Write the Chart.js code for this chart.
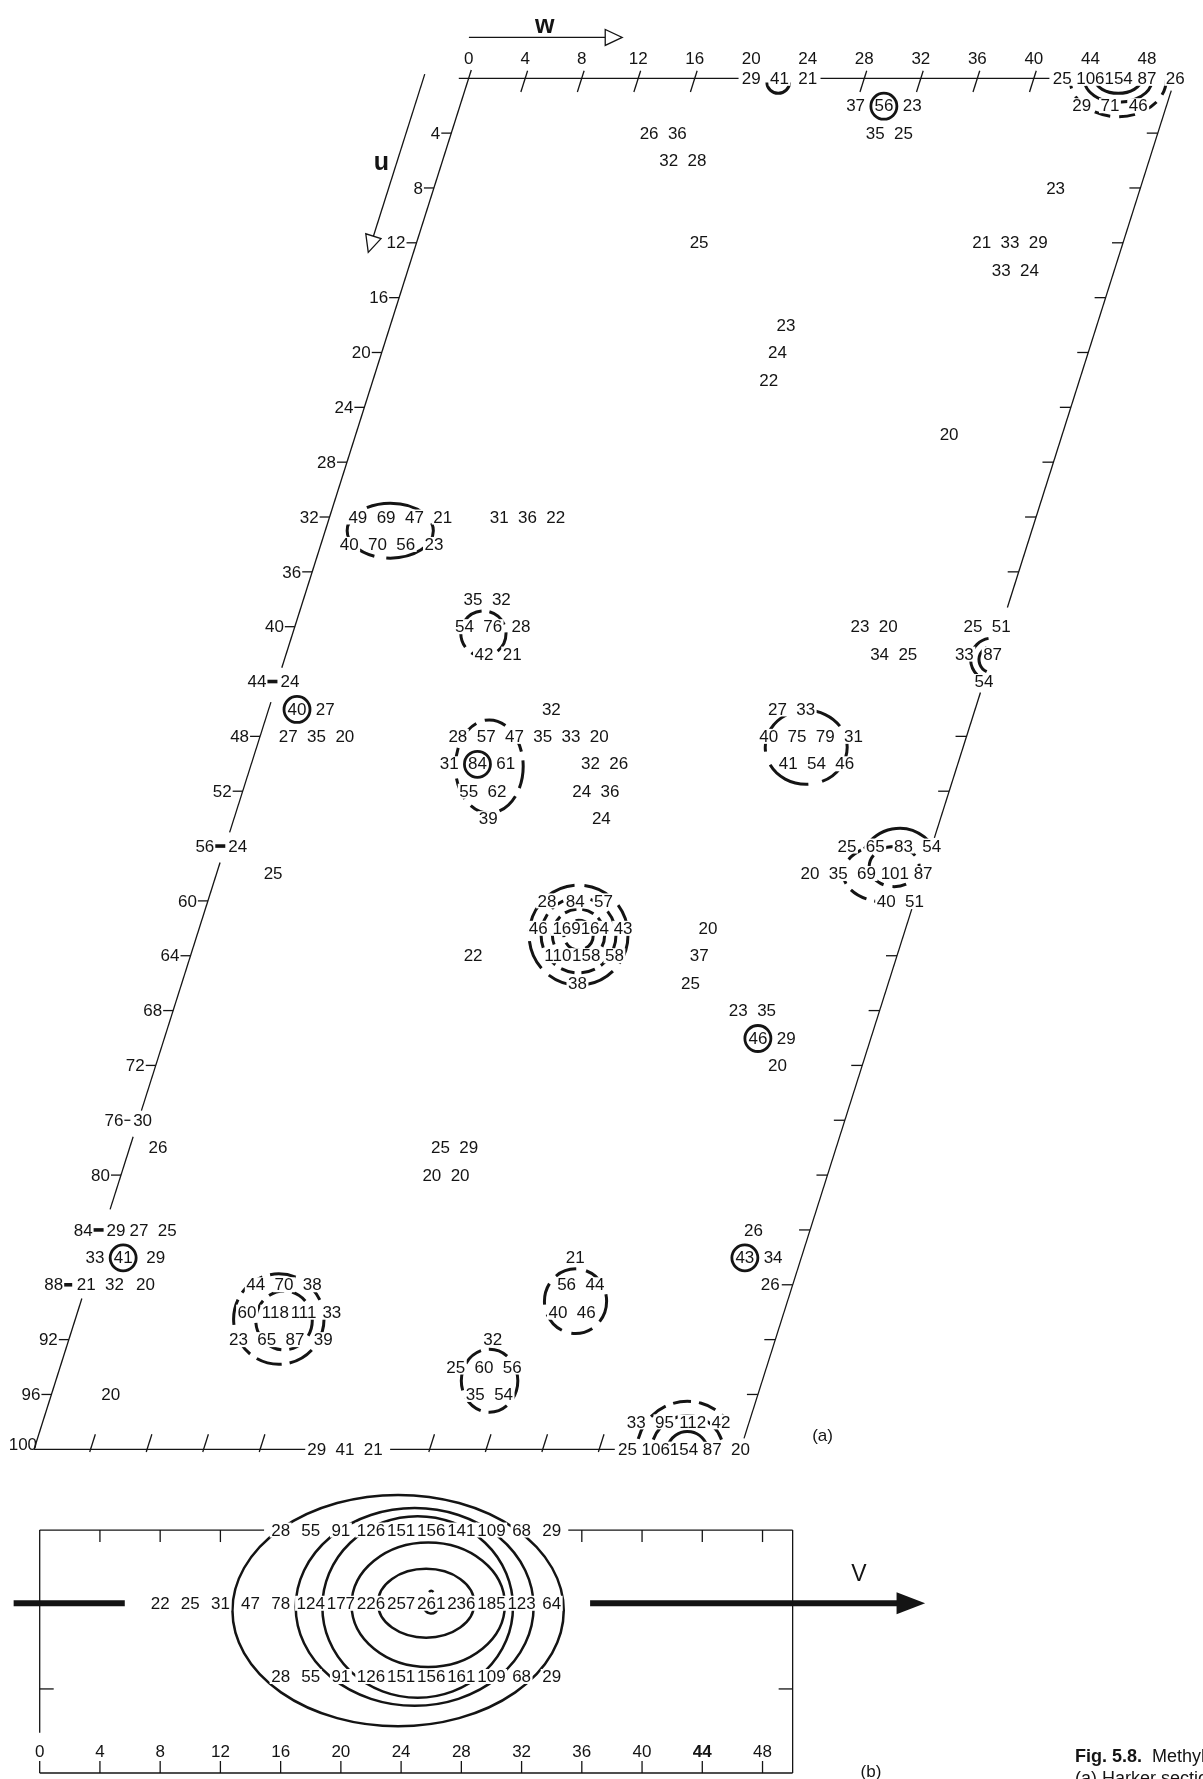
<!DOCTYPE html>
<html><head><meta charset="utf-8">
<script src="https://cdn.jsdelivr.net/npm/chart.js@4.4.1/dist/chart.umd.min.js"></script>
<style>
html,body{margin:0;padding:0;background:#fff;width:1203px;height:1779px;overflow:hidden}
canvas{position:absolute;left:0}
</style>
</head><body>
<canvas id="ca" width="1203" height="1470" style="top:0;width:1203px;height:1470px"></canvas>
<canvas id="cb" width="1203" height="309" style="top:1470px;width:1203px;height:309px"></canvas>
<script>
// ---------- (a) Harker section: peak heights at grid points [w, u, value] ----------
const SKEW = 0.3076; // oblique cell: w-shift per unit of u
const harkerPeaks = [
 [20,0,29],[22,0,41],[24,0,21],[42,0,25],[44,0,106],[46,0,154],[48,0,87],[50,0,26],
 [28,2,37],[30,2,56],[32,2,23],[44,2,29],[46,2,71],[48,2,46],
 [14,4,26],[16,4,36],[30,4,35],[32,4,25],
 [16,6,32],[18,6,28],
 [44,8,23],
 [20,12,25],[40,12,21],[42,12,33],[44,12,29],
 [42,14,33],[44,14,24],
 [28,18,23],[28,20,24],[28,22,22],
 [42,26,20],
 [2,32,49],[4,32,69],[6,32,47],[8,32,21],[12,32,31],[14,32,36],[16,32,22],
 [2,34,40],[4,34,70],[6,34,56],[8,34,23],
 [12,38,35],[14,38,32],
 [12,40,54],[14,40,76],[16,40,28],[40,40,23],[42,40,20],[48,40,25],[50,40,51],
 [14,42,42],[16,42,21],[42,42,34],[44,42,25],[48,42,33],[50,42,87],
 [50,44,54],
 [2,46,40],[4,46,27],[20,46,32],[36,46,27],[38,46,33],
 [2,48,27],[4,48,35],[6,48,20],[14,48,28],[16,48,57],[18,48,47],[20,48,35],[22,48,33],[24,48,20],[36,48,40],[38,48,75],[40,48,79],[42,48,31],
 [14,50,31],[16,50,84],[18,50,61],[24,50,32],[26,50,26],[38,50,41],[40,50,54],[42,50,46],
 [16,52,55],[18,52,62],[24,52,24],[26,52,36],
 [18,54,39],[26,54,24],
 [44,56,25],[46,56,65],[48,56,83],[50,56,54],
 [4,58,25],[42,58,20],[44,58,35],[46,58,69],[48,58,101],[50,58,87],
 [24,60,28],[26,60,84],[28,60,57],[48,60,40],[50,60,51],
 [24,62,46],[26,62,169],[28,62,164],[30,62,43],[36,62,20],
 [20,64,22],[26,64,110],[28,64,158],[30,64,58],[36,64,37],
 [28,66,38],[36,66,25],
 [40,68,23],[42,68,35],
 [42,70,46],[44,70,29],
 [44,72,20],
 [0.3,76,30],
 [2,78,26],[22,78,25],[24,78,29],
 [22,80,20],[24,80,20],
 [2.5,84,27],[4.5,84,25],[46,84,26],
 [0,86,33],[2,86,41],[4.3,86,29],[34,86,21],[46,86,43],[48,86,34],
 [0,88,21],[2,88,32],[4.2,88,20],[12,88,44],[14,88,70],[16,88,38],[34,88,56],[36,88,44],
 [12,90,60],[14,90,118],[16,90,111],[18,90,33],[34,90,40],[36,90,46],
 [12,92,23],[14,92,65],[16,92,87],[18,92,39],[30,92,32],
 [28,94,25],[30,94,60],[32,94,56],
 [4.2,96,20],[30,96,35],[32,96,54],
 [42,98,33],[44,98,95],[46,98,112],[48,98,42],
 [20,100,29],[22,100,41],[24,100,21],[42,100,25],[44,100,106],[46,100,154],[48,100,87],[50,100,20]
];
const circledPeaks = [[30,2],[2,46],[16,50],[42,70],[2,86],[46,86]];
const leftEdgeValues = [[44,24],[56,24],[84,29]];   // [u, value] printed just right of w = 0
const rightEdgeValues = [[88,26]];                   // [u, value] printed just left of w = 50
const heavyLeftTicks = [44,56,84,88];
const wTickLabels = [0,4,8,12,16,20,24,28,32,36,40,44,48];
const wTickMarks = [4,8,12,16,28,32,36,40];
const uTickLabels = [4,8,12,16,20,24,28,32,36,40,44,48,52,56,60,64,68,72,76,80,84,88,92,96,100];
const rightTickMarks = [4,8,12,16,20,24,28,32,36,48,52,64,68,72,76,80,84,88,92,96];
const topEdgeSpans = [[-0.7,19.1],[24.9,41.1]];
const bottomEdgeSpans = [[0,19.2],[25.2,41.1]];
const leftEdgeSpans = [[-0.6,43],[45.5,55],[57.2,75.3],[77.2,82.5],[89,100]];
const rightEdgeSpans = [[0.9,38.6],[44.8,55.4],[60.6,99.2]];
// contours: centre (w,u), radii in w / u units, arc angles (deg), dash
const contoursA = [
 {w:22,u:0.3,rw:0.8,ru:0.8,a0:0,a1:180},
 {w:46,u:0.1,rw:1.6,ru:1.0,a0:0,a1:180},
 {w:46,u:0.1,rw:2.4,ru:1.65,a0:15,a1:165},
 {w:46,u:0.1,rw:3.4,ru:2.7,a0:0,a1:180,dash:[16,9]},
 {w:4.6,u:33,rw:3.05,ru:2.0,a0:0,a1:360,dash:[60,12]},
 {w:13.5,u:40.5,rw:1.6,ru:1.65,a0:0,a1:360,dash:[20,8]},
 {w:16.9,u:50.2,rw:2.4,ru:3.4,a0:0,a1:360,dash:[22,9]},
 {w:38.9,u:48.8,rw:2.9,ru:2.7,a0:0,a1:360,dash:[45,14]},
 {w:50.1,u:42.4,rw:1.53,ru:1.57,a0:100,a1:260},
 {w:50.1,u:42.4,rw:0.94,ru:0.97,a0:115,a1:245},
 {w:48.4,u:58.2,rw:3.05,ru:3.5,a0:215,a1:325},
 {w:47.3,u:58,rw:2.95,ru:2.07,a0:80,a1:235,dash:[18,8]},
 {w:47.8,u:57.5,rw:1.77,ru:1.46,a0:0,a1:360,dash:[14,9]},
 {w:27,u:62.5,rw:1.04,ru:1.08,a0:0,a1:360,dash:[16,6]},
 {w:27,u:62.5,rw:1.85,ru:1.9,a0:0,a1:360,dash:[12,6]},
 {w:27,u:62.5,rw:2.65,ru:2.75,a0:0,a1:360,dash:[14,7]},
 {w:27,u:62.5,rw:3.5,ru:3.65,a0:0,a1:360,dash:[30,10]},
 {w:14.4,u:90.5,rw:3.2,ru:3.3,a0:0,a1:360,dash:[26,8]},
 {w:14.8,u:90.6,rw:2.0,ru:2.15,a0:0,a1:360,dash:[16,8]},
 {w:30.7,u:95,rw:2.0,ru:2.3,a0:0,a1:360,dash:[20,8]},
 {w:35,u:89.2,rw:2.2,ru:2.36,a0:0,a1:360,dash:[22,10]},
 {w:46.3,u:100.2,rw:1.45,ru:1.5,a0:190,a1:350},
 {w:46.3,u:100.2,rw:2.57,ru:2.65,a0:200,a1:340},
 {w:46.3,u:100.2,rw:3.6,ru:3.7,a0:195,a1:320,dash:[18,8]}
];

// ---------- (b) Harker line along v ----------
const topRowV = [16,18,20,22,24,26,28,30,32,34];
const topRowValues = [28,55,91,126,151,156,141,109,68,29];
const midRowV = [8,10,12,14,16,18,20,22,24,26,28,30,32,34];
const midRowValues = [22,25,31,47,78,124,177,226,257,261,236,185,123,64];
const botRowV = [16,18,20,22,24,26,28,30,32,34];
const botRowValues = [28,55,91,126,151,156,161,109,68,29];
const vTickLabels = [0,4,8,12,16,20,24,28,32,36,40,44,48];
const vTopTicks = [4,8,12,36,40,44,48];
const topBorderSpans = [[0,14.9],[35.1,50]];
const contoursB = [
 {v:26.0,r:0.02,rv:0.5,rr:0.12,a0:10,a1:170},
 {v:26.0,r:0.0,rv:0.35,rr:0.17,a0:245,a1:295},
 {v:25.66,r:0.0,rv:3.2,rr:0.47,a0:0,a1:360},
 {v:25.8,r:0.02,rv:5.09,rr:0.85,a0:0,a1:360},
 {v:25.1,r:0.05,rv:6.33,rr:1.24,a0:0,a1:360},
 {v:24.9,r:0.05,rv:7.9,rr:1.35,a0:0,a1:360},
 {v:23.8,r:0.1,rv:11.0,rr:1.58,a0:0,a1:360}
];

const FONT = '"Liberation Sans", Arial, Helvetica, sans-serif';
const INK = '#141414';
const D2R = Math.PI/180;

function textItems(ctx, items){
  items.forEach(it => {
    if (!it.box) return;
    ctx.font = it.font;
    const w = ctx.measureText(it.t).width;
    const x0 = it.align==='left' ? it.x : it.align==='right' ? it.x - w : it.x - w/2;
    ctx.fillStyle = '#fff';
    ctx.fillRect(x0 - 1.5, it.y - 7.5, w + 3, 15);
  });
  items.forEach(it => {
    ctx.font = it.font; ctx.textAlign = it.align || 'center'; ctx.textBaseline = 'middle';
    ctx.fillStyle = INK; ctx.fillText(it.t, it.x, it.y + 1);
  });
}
function line(ctx, a, b){ ctx.beginPath(); ctx.moveTo(a.x,a.y); ctx.lineTo(b.x,b.y); ctx.stroke(); }
function openHead(ctx, tip, dx, dy, len, half){
  const n = Math.hypot(dx,dy); const ux = dx/n, uy = dy/n;
  const bx = tip.x - ux*len, by = tip.y - uy*len;
  ctx.beginPath();
  ctx.moveTo(tip.x, tip.y);
  ctx.lineTo(bx - uy*half, by + ux*half);
  ctx.lineTo(bx + uy*half, by - ux*half);
  ctx.closePath(); ctx.fillStyle='#fff'; ctx.fill(); ctx.stroke();
}

const sectionPlugin = {
  id: 'section',
  afterDraw(chart){
    const ctx = chart.ctx, xs = chart.scales.x, ys = chart.scales.y;
    const P = (w,u) => ({x: xs.getPixelForValue(w - SKEW*u), y: ys.getPixelForValue(u)});
    const sx = v => Math.abs(xs.getPixelForValue(v) - xs.getPixelForValue(0));
    const sy = v => Math.abs(ys.getPixelForValue(v) - ys.getPixelForValue(0));
    ctx.save();
    ctx.strokeStyle = INK; ctx.lineCap = 'butt';
    ctx.lineWidth = 1.3;
    topEdgeSpans.forEach(([a,b]) => line(ctx, P(a,0), P(b,0)));
    bottomEdgeSpans.forEach(([a,b]) => line(ctx, P(a,100), P(b,100)));
    leftEdgeSpans.forEach(([a,b]) => line(ctx, P(0,a), P(0,b)));
    rightEdgeSpans.forEach(([a,b]) => line(ctx, P(50,a), P(50,b)));
    wTickMarks.forEach(w => { line(ctx, P(w,-0.55), P(w,1.0)); line(ctx, P(w,98.9), P(w,100.2)); });
    uTickLabels.forEach(u => {
      if (u === 100) return;
      const p = P(0,u);
      const heavy = heavyLeftTicks.includes(u);
      ctx.lineWidth = heavy ? 3.6 : 1.3;
      if (u === 88) line(ctx, {x:p.x-22, y:p.y}, {x:p.x-14, y:p.y});
      else if (u === 76) line(ctx, {x:p.x-14, y:p.y}, {x:p.x-8, y:p.y});
      else line(ctx, {x:p.x-10, y:p.y}, {x:p.x, y:p.y});
    });
    ctx.lineWidth = 1.3;
    rightTickMarks.forEach(u => { const p = P(50,u); line(ctx, {x:p.x-11,y:p.y}, p); });
    const wa = P(-0.9,-2.98), wb = P(9.95,-2.98);
    line(ctx, wa, {x:wb.x-17, y:wb.y});
    openHead(ctx, wb, 1, 0, 17, 8);
    const ua = P(-3.2,-0.3), ub = P(-3.2,12.7);
    const dx = ub.x-ua.x, dy = ub.y-ua.y, n = Math.hypot(dx,dy);
    line(ctx, ua, {x: ub.x - dx/n*17, y: ub.y - dy/n*17});
    openHead(ctx, ub, dx, dy, 17, 8);
    ctx.lineWidth = 3.0;
    contoursA.forEach(c => {
      const p = P(c.w, c.u);
      ctx.setLineDash(c.dash || []);
      ctx.beginPath();
      ctx.ellipse(p.x, p.y, sx(c.rw), sy(c.ru), 0, c.a0*D2R, c.a1*D2R);
      ctx.stroke();
    });
    ctx.setLineDash([]);
    const items = [];
    const vf = '17px ' + FONT, tf = '17px ' + FONT;
    const meta = chart.getDatasetMeta(0);
    meta.data.forEach((el, i) => items.push({t:String(harkerPeaks[i][2]), x:el.x, y:el.y, font:vf, box:true}));
    leftEdgeValues.forEach(([u,v]) => { const p = P(0,u); items.push({t:String(v), x:p.x+3, y:p.y, align:'left', font:vf, box:true}); });
    rightEdgeValues.forEach(([u,v]) => { const p = P(50,u); items.push({t:String(v), x:p.x-13, y:p.y, align:'right', font:vf, box:true}); });
    wTickLabels.forEach(w => items.push({t:String(w), x:xs.getPixelForValue(w), y:ys.getPixelForValue(-1.45), font:tf}));
    uTickLabels.forEach(u => {
      const p = P(0,u);
      if (u === 100) items.push({t:'100', x:p.x+3, y:p.y-5, align:'right', font:tf});
      else if (u === 88) items.push({t:'88', x:p.x-23, y:p.y, align:'right', font:tf});
      else if (u === 76) items.push({t:'76', x:p.x-15, y:p.y, align:'right', font:tf});
      else items.push({t:String(u), x:p.x-11, y:p.y, align:'right', font:tf});
    });
    const wl = P(4.19,-3.89); items.push({t:'w', x:wl.x, y:wl.y, font:'bold 25px '+FONT});
    const ul = P(-4.29,6.13); items.push({t:'u', x:ul.x, y:ul.y, font:'bold 25px '+FONT});
    const al = P(55.5,99.0); items.push({t:'(a)', x:al.x, y:al.y, font:'17px '+FONT});
    textItems(ctx, items);
    ctx.lineWidth = 2.8;
    circledPeaks.forEach(([w,u]) => { const p = P(w,u); ctx.beginPath(); ctx.arc(p.x, p.y+0.5, 13, 0, Math.PI*2); ctx.stroke(); });
    ctx.restore();
  }
};

const lineBPlugin = {
  id: 'harkerLine',
  afterDraw(chart){
    const ctx = chart.ctx, xs = chart.scales.x, ys = chart.scales.y;
    const P = (v,r) => ({x: xs.getPixelForValue(v), y: ys.getPixelForValue(r)});
    const sx = v => Math.abs(xs.getPixelForValue(v) - xs.getPixelForValue(0));
    const sy = v => Math.abs(ys.getPixelForValue(v) - ys.getPixelForValue(0));
    ctx.save();
    ctx.strokeStyle = INK; ctx.fillStyle = INK;
    ctx.lineWidth = 1.3;
    topBorderSpans.forEach(([a,b]) => line(ctx, P(a,-1), P(b,-1)));
    line(ctx, P(0,-1), P(0,1.77));
    line(ctx, P(50,-1), P(50,2.318));
    line(ctx, P(0,2.318), P(50,2.318));
    vTopTicks.forEach(v => { const p = P(v,-1); line(ctx, p, {x:p.x, y:p.y+12}); });
    vTickLabels.forEach(v => { const p = P(v,2.318); line(ctx, p, {x:p.x, y:p.y-12}); });
    const lt = P(0,1.17), rt = P(50,1.17);
    line(ctx, lt, {x:lt.x+14, y:lt.y}); line(ctx, rt, {x:rt.x-14, y:rt.y});
    ctx.lineWidth = 6;
    line(ctx, P(-1.73,0), P(5.65,0));
    const tip = P(58.8,0), base = P(56.9,0);
    line(ctx, P(36.55,0), {x:base.x+2, y:base.y});
    ctx.beginPath(); ctx.moveTo(tip.x, tip.y); ctx.lineTo(base.x, base.y-11); ctx.lineTo(base.x, base.y+11); ctx.closePath(); ctx.fill();
    ctx.lineWidth = 2.5;
    contoursB.forEach(c => {
      const p = P(c.v, c.r);
      ctx.beginPath(); ctx.ellipse(p.x, p.y, sx(c.rv), sy(c.rr), 0, c.a0*D2R, c.a1*D2R); ctx.stroke();
    });
    const items = [];
    const vf = '17px ' + FONT;
    [[0,topRowValues],[1,midRowValues],[2,botRowValues]].forEach(([di, vals]) => {
      chart.getDatasetMeta(di).data.forEach((el,i) => items.push({t:String(vals[i]), x:el.x, y:el.y, font:vf, box:true}));
    });
    vTickLabels.forEach(v => { const p = P(v,2.023); items.push({t:String(v), x:p.x, y:p.y, font:(v===44?'bold ':'')+'17px '+FONT}); });
    const vl = P(54.4,-0.41); items.push({t:'V', x:vl.x, y:vl.y, font:'23px '+FONT});
    const bl = P(55.2,2.29); items.push({t:'(b)', x:bl.x, y:bl.y, font:'17px '+FONT});
    textItems(ctx, items);
    const c1 = P(68.75,2.10);
    ctx.textAlign='left'; ctx.textBaseline='middle'; ctx.fillStyle=INK;
    ctx.font = 'bold 18px ' + FONT; ctx.fillText('Fig. 5.8.', c1.x, c1.y);
    const wb = ctx.measureText('Fig. 5.8.').width;
    ctx.font = '18px ' + FONT; ctx.fillText('  Methylene', c1.x + wb, c1.y);
    const c2 = P(68.75,2.40);
    ctx.fillText('(a) Harker section', c1.x, c2.y);
    ctx.restore();
  }
};

const common = {
  responsive:false, animation:false, devicePixelRatio:1, events:[],
  layout:{padding:0},
  plugins:{legend:{display:false}, tooltip:{enabled:false}},
  elements:{point:{radius:0}}
};

new Chart(document.getElementById('ca'), {
  type:'scatter',
  data:{datasets:[{label:'Harker section', data: harkerPeaks.map(([w,u,v]) => ({x: w - SKEW*u, y: u, v})), pointRadius:0}]},
  options:Object.assign({}, common, {
    scales:{
      x:{type:'linear', min:-33.17, max:51.97, display:false},
      y:{type:'linear', min:-5.71, max:101.51, reverse:true, display:false}
    }
  }),
  plugins:[sectionPlugin]
});

new Chart(document.getElementById('cb'), {
  type:'scatter',
  data:{datasets:[
    {label:'upper', data: topRowV.map((v,i) => ({x:v, y:-1, v:topRowValues[i]})), pointRadius:0},
    {label:'line', data: midRowV.map((v,i) => ({x:v, y:0, v:midRowValues[i]})), pointRadius:0},
    {label:'lower', data: botRowV.map((v,i) => ({x:v, y:1, v:botRowValues[i]})), pointRadius:0}
  ]},
  options:Object.assign({}, common, {
    scales:{
      x:{type:'linear', min:-2.636, max:77.25, display:false},
      y:{type:'linear', min:-1.82, max:2.40, reverse:true, display:false}
    }
  }),
  plugins:[lineBPlugin]
});
</script>
</body></html>
